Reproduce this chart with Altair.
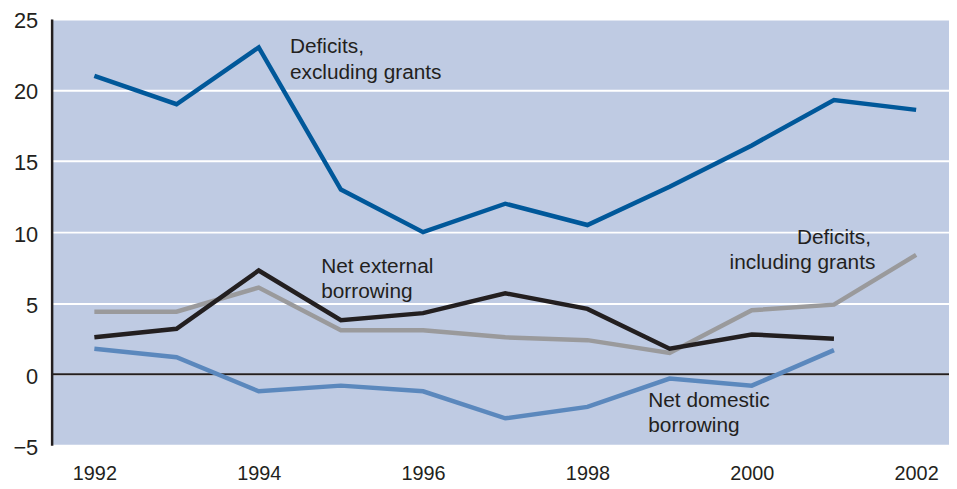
import altair as alt
import pandas as pd

years = [1992, 1993, 1994, 1995, 1996, 1997, 1998, 1999, 2000, 2001, 2002]
excl_grants = [21.0, 19.0, 23.0, 13.0, 10.0, 12.0, 10.5, 13.2, 16.1, 19.3, 18.6]
incl_grants = [4.4, 4.4, 6.1, 3.1, 3.1, 2.6, 2.4, 1.5, 4.5, 4.9, 8.4]
ext_years = [1992, 1993, 1994, 1995, 1996, 1997, 1998, 1999, 2000, 2001]
net_external = [2.6, 3.2, 7.3, 3.8, 4.3, 5.7, 4.6, 1.8, 2.8, 2.5]
net_domestic = [1.8, 1.2, -1.2, -0.8, -1.2, -3.1, -2.3, -0.3, -0.8, 1.7]

series_names = ["Deficits, excluding grants", "Deficits, including grants",
                "Net external borrowing", "Net domestic borrowing"]
series_colors = ["#00589a", "#9a9a9c", "#231f20", "#5b88bd"]

rows = []
for y, v in zip(years, excl_grants):
    rows.append({"year": y, "value": v, "series": series_names[0]})
for y, v in zip(years, incl_grants):
    rows.append({"year": y, "value": v, "series": series_names[1]})
for y, v in zip(ext_years, net_external):
    rows.append({"year": y, "value": v, "series": series_names[2]})
for y, v in zip(ext_years, net_domestic):
    rows.append({"year": y, "value": v, "series": series_names[3]})
df = pd.DataFrame(rows)

label_text = ["Deficits,", "excluding grants", "Net external", "borrowing",
              "Deficits,", "including grants", "Net domestic", "borrowing"]
label_x = [1994.38, 1994.38, 1994.76, 1994.76, 2000.55, 1999.73, 1998.74, 1998.74]
label_y = [23.0, 21.2, 7.55, 5.8, 9.57, 7.82, -1.9, -3.65]
labels = pd.DataFrame({"text": label_text, "x": label_x, "y": label_y})

FONT = "Liberation Sans"
xscale = alt.Scale(domain=[1991.48, 2002.40], nice=False, zero=False)
yscale = alt.Scale(domain=[-5, 25], nice=False)

lines = alt.Chart(df).mark_line(strokeWidth=4.5, strokeJoin="miter").encode(
    x=alt.X("year:Q", scale=xscale,
            axis=alt.Axis(values=[1992, 1994, 1996, 1998, 2000, 2002], format="d",
                          title=None, grid=False, ticks=False, domain=False,
                          labelFontSize=20, labelFont=FONT, labelColor="#231f20",
                          labelPadding=18)),
    y=alt.Y("value:Q", scale=yscale,
            axis=alt.Axis(values=[-5, 0, 5, 10, 15, 20, 25], title=None,
                          grid=True, gridColor="white", gridWidth=2,
                          ticks=False, domain=True, domainColor="#231f20",
                          domainWidth=2.5, labelFontSize=22, labelFont=FONT,
                          labelColor="#231f20", labelPadding=14, labelOffset=2,
                          labelExpr="datum.value < 0 ? '\u2212' + abs(datum.value) : datum.label")),
    color=alt.Color("series:N", scale=alt.Scale(domain=series_names, range=series_colors),
                    legend=None),
    detail="series:N",
)

zero = alt.Chart(pd.DataFrame({"z": [0]})).mark_rule(color="#231f20", strokeWidth=2).encode(
    y=alt.Y("z:Q", scale=yscale)
)

text = alt.Chart(labels).mark_text(align="left", baseline="middle", fontSize=21,
                                   font=FONT, color="#231f20").encode(
    x=alt.X("x:Q", scale=xscale),
    y=alt.Y("y:Q", scale=yscale),
    text="text:N",
)

chart = alt.layer(zero, lines, text).properties(
    width=905, height=430,
    autosize=alt.AutoSizeParams(type="none"),
    padding={"left": 44, "top": 9, "right": 0, "bottom": 40},
    background="white",
).configure_view(fill="#bfcbe3", stroke=None).configure_axisY(gridOpacity=1)

chart.save("out.html", embed_options={"renderer": "svg", "actions": False})
